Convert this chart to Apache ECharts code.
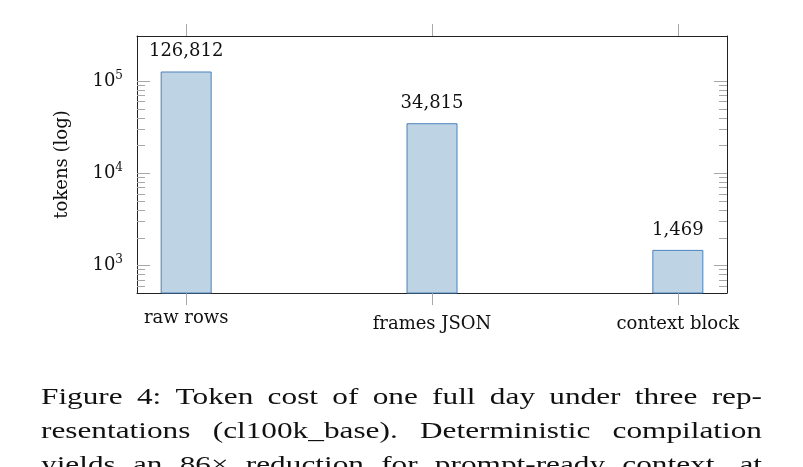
<!DOCTYPE html>
<html><head><meta charset="utf-8">
<script src="https://cdn.jsdelivr.net/npm/echarts@6/dist/echarts.min.js"></script>
<style>html,body{margin:0;padding:0;background:#fff;overflow:hidden}#c{width:803px;height:467px}</style>
</head><body><div id="c"></div>
<script>
// ---- data ----
const categories = ['raw rows', 'frames JSON', 'context block'];
const tokens = [126812, 34815, 1469];
const yMajorTicks = [1000, 10000, 100000];
const yMinorTicks = [600, 700, 800, 900,
  2000, 3000, 4000, 5000, 6000, 7000, 8000, 9000,
  20000, 30000, 40000, 50000, 60000, 70000, 80000, 90000];
const yMin = 500;
const yMax = 308000;
const yTitle = 'tokens (log)';
const captionLines = [
  'Figure 4: Token cost of one full day under three rep-',
  'resentations (cl100k_base). Deterministic compilation',
  'yields an 86\u00d7 reduction for prompt-ready context, at'
];

// ---- styling ----
const SERIF = '"DejaVu Serif", serif';
const TXT = '#111';
const FRAME = '#222';
const TICK = '#a8a8a8';
const grid = { left: 137, top: 36, width: 590, height: 257 };

const chart = echarts.init(document.getElementById('c'), null, { renderer: 'canvas' });

function isPow10(v) {
  const e = Math.log10(v);
  return Math.abs(e - Math.round(e)) < 1e-6 ? Math.round(e) : null;
}

function tickSeries(values, len) {
  return {
    type: 'custom', coordinateSystem: 'cartesian2d', silent: true, clip: false, z: 5,
    data: values.map(v => [0, v]),
    encode: { x: 0, y: 1 },
    renderItem: (params, api) => {
      const cs = params.coordSys;
      const y = Math.round(api.coord([0, api.value(1)])[1]) + 0.5;
      return {
        type: 'group', children: [
          { type: 'line', shape: { x1: cs.x, y1: y, x2: cs.x + len, y2: y }, style: { stroke: TICK, lineWidth: 1 } },
          { type: 'line', shape: { x1: cs.x + cs.width - len, y1: y, x2: cs.x + cs.width, y2: y }, style: { stroke: TICK, lineWidth: 1 } }
        ]
      };
    }
  };
}

const catIdx = categories.map((c, i) => i);
const xBase = {
  type: 'value', min: -0.2, max: 2.2,
  splitLine: { show: false },
  axisLine: { show: true, onZero: false, lineStyle: { color: FRAME, width: 1 } },
  axisTick: { show: true, inside: false, length: 12, customValues: catIdx, lineStyle: { color: TICK, width: 1 } }
};
const yBase = {
  type: 'log', logBase: 10, min: yMin, max: yMax,
  axisLine: { show: true, onZero: false, lineStyle: { color: FRAME, width: 1 } },
  axisTick: { show: false }, splitLine: { show: false }, minorTick: { show: false }
};

const option = {
  animation: false,
  backgroundColor: '#fff',
  grid: grid,
  xAxis: [
    Object.assign({}, xBase, {
      position: 'bottom',
      axisLabel: {
        customValues: catIdx, margin: 16,
        formatter: v => {
          const t = categories[Math.round(v)];
          return /[A-Zbdfhiklt]/.test(t) ? '{a|' + t + '}' : '{x|' + t + '}';
        },
        rich: {
          a: { fontFamily: SERIF, fontSize: 18, color: TXT, padding: [6, 0, 0, 0] },
          x: { fontFamily: SERIF, fontSize: 18, color: TXT }
        }
      }
    }),
    Object.assign({}, xBase, { position: 'top', axisLabel: { show: false } })
  ],
  yAxis: [
    Object.assign({}, yBase, {
      position: 'left',
      axisLabel: {
        margin: 14, showMinLabel: false, showMaxLabel: false,
        formatter: v => { const e = isPow10(v); return e === null ? '' : '{b|10}{s|' + e + '}'; },
        rich: {
          b: { fontFamily: SERIF, fontSize: 18, color: TXT },
          s: { fontFamily: SERIF, fontSize: 12, color: TXT, padding: [0, 0, 10, 0] }
        }
      },
      name: yTitle, nameLocation: 'middle', nameGap: 66,
      nameTextStyle: { fontFamily: SERIF, fontSize: 18, color: TXT }
    }),
    Object.assign({}, yBase, { position: 'right', axisLabel: { show: false } })
  ],
  series: [
    {
      type: 'bar', data: tokens.map((v, i) => [i, v]), barWidth: 51,
      itemStyle: { color: '#bed3e4', borderColor: '#4a82bd', borderWidth: 1 },
      label: {
        show: true, position: 'top', distance: 11,
        formatter: p => p.value[1].toLocaleString('en-US'),
        fontFamily: SERIF, fontSize: 18, color: TXT
      }
    },
    tickSeries(yMajorTicks, 13),
    tickSeries(yMinorTicks, 8)
  ]
};
chart.setOption(option);

// ---- caption: justified lines, glyphs widened ----
const CAP_FONT = '23px "Liberation Serif"';
const GLYPH_STRETCH = 1.36;
const capLeft = 41, capRight = 762, capBase0 = 404, capLead = 34, capBaseShift = 5;
const ctx = document.createElement('canvas').getContext('2d');
ctx.font = CAP_FONT;
const elems = [];
captionLines.forEach((line, li) => {
  const words = line.split(' ');
  const widths = words.map(w => ctx.measureText(w).width * GLYPH_STRETCH);
  const total = widths.reduce((a, b) => a + b, 0);
  const gap = (capRight - capLeft - total) / (words.length - 1);
  let x = capLeft;
  words.forEach((w, wi) => {
    elems.push({
      type: 'text', silent: true, z: 10,
      x: x, y: capBase0 + li * capLead + capBaseShift,
      scaleX: GLYPH_STRETCH,
      style: { text: w, x: 0, y: 0, font: CAP_FONT, fill: TXT, verticalAlign: 'bottom' }
    });
    x += widths[wi] + gap;
  });
});
chart.setOption({ graphic: { elements: elems } });
</script>
</body></html>
